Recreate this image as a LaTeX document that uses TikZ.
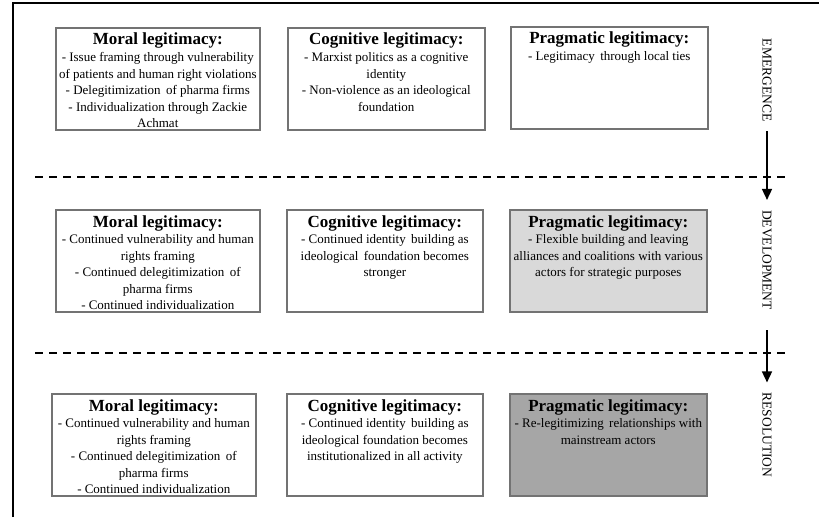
\documentclass[tikz,border=0pt]{standalone}
\usepackage{fontspec}
\setmainfont{Liberation Serif}
\usetikzlibrary{arrows.meta}
\definecolor{framegray}{RGB}{115,115,115}
\definecolor{lightfill}{RGB}{217,217,217}
\definecolor{darkfill}{RGB}{166,166,166}
\tikzset{
  legframe/.style={draw=framegray, line width=1.6pt, anchor=north west,
    minimum height=102pt, inner sep=0pt},
  legtext/.style={align=center, inner sep=0pt,
    font=\fontsize{13}{16.4}\selectfont},
  phase/.style={rotate=-90, inner xsep=10pt, inner ysep=2pt,
    font=\fontsize{13.5}{15}\selectfont},
}
\newcommand{\legbox}[6]{
\node[legframe, fill=#5, minimum width=#4] (#1) at (#2,#3) {};
\node[legtext, anchor=north] (#1t) at ([yshift=-6pt]#1.north) {#6};}
\newcommand{\legtitle}[1]{{\fontsize{17}{18}\selectfont\bfseries #1}\\[0.5pt]}

\begin{document}
\begin{tikzpicture}[x=1pt,y=-1pt]
\useasboundingbox (0,0) rectangle (819,517);
\draw[line width=1.4pt] (13,517) |- (819,3);
\foreach \y in {177,353}{
	\draw[line width=1.5pt, dash pattern=on 8pt off 6pt] (35,\y)--(790,\y);
}

% emergence
\legbox{mor1}{55}{27}{204pt}{white}{\legtitle{Moral legitimacy:}
- Issue framing through vulnerability\\
of patients and human right violations\\
- Delegitimization\, of pharma firms\\
- Individualization through Zackie\\
Achmat}
\legbox{cog1}{287}{27}{197pt}{white}{\legtitle{Cognitive legitimacy:}
- Marxist politics as a cognitive\\
identity\\
- Non-violence as an ideological\\
foundation}
\legbox{pra1}{510}{26}{197pt}{white}{\legtitle{Pragmatic legitimacy:}
- Legitimacy\, through local ties}

% development
\legbox{mor2}{55}{209}{204pt}{white}{\legtitle{Moral legitimacy:}
- Continued vulnerability and human\\
rights framing\\
- Continued delegitimization\, of\\
pharma firms\\
- Continued individualization}
\legbox{cog2}{286}{209}{196pt}{white}{\legtitle{Cognitive legitimacy:}
- Continued identity\, building as\\
ideological\, foundation becomes\\
stronger}
\legbox{pra2}{509}{209}{197pt}{lightfill}{\legtitle{Pragmatic legitimacy:}
- Flexible building and leaving\\
alliances and coalitions with various\\
actors for strategic purposes}

% resolution
\legbox{mor3}{51}{393}{204pt}{white}{\legtitle{Moral legitimacy:}
- Continued vulnerability and human\\
rights framing\\
- Continued delegitimization\, of\\
pharma firms\\
- Continued individualization}
\legbox{cog3}{286}{393}{196pt}{white}{\legtitle{Cognitive legitimacy:}
- Continued identity\, building as\\
ideological foundation becomes\\
institutionalized in all activity}
\legbox{pra3}{509}{393}{197pt}{darkfill}{\legtitle{Pragmatic legitimacy:}
- Re-legitimizing\, relationships with\\
mainstream actors}

% phases
\node[phase] (emg) at (767,80) {EMERGENCE};
\node[phase] (dev) at (767,260) {DEVELOPMENT};
\node[phase] (res) at (767,435) {RESOLUTION};
\draw[line width=1.6pt, -{Triangle[length=11pt,width=10pt]}] (emg)--(dev);
\draw[line width=1.6pt, -{Triangle[length=11pt,width=10pt]}, shorten <=10pt] (dev)--(res);
\end{tikzpicture}
\end{document}
